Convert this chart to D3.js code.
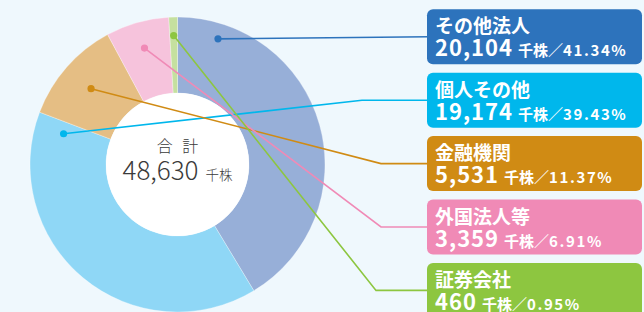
<!DOCTYPE html>
<html>
<head>
<meta charset="utf-8">
<script src="https://cdn.jsdelivr.net/npm/d3@7"></script>
<style>
  html, body { margin: 0; padding: 0; background: #eff8fd; }
  svg { display: block; font-family: "Noto Sans CJK JP", "Noto Sans", sans-serif; }
</style>
</head>
<body>
<script>
// shareholder distribution (千株)
const categories = ['その他法人', '個人その他', '金融機関', '外国法人等', '証券会社'];
const shares = [20104, 19174, 5531, 3359, 460];
const percents = ['41.34%', '39.43%', '11.37%', '6.91%', '0.95%'];
const totalShares = 48630;
const unitLabel = '千株';
const totalTitle = '合 計';

const sliceColors = ['#97afd8', '#8fd7f6', '#e5be84', '#f6c3dc', '#c5e09f'];
const boxColors = ['#2d73bc', '#00b7ec', '#d08b14', '#f08ab6', '#8dc640'];

// callout anchor: position along the slice (0..1) and radius
const anchorFrac = [0.12, 0.96, 0.5, 0.5, 0.5];
const anchorR = [132, 118, 115, 121, 129];
const bendX = [null, 362, 381, 381, 376];

const width = 644, height = 312;
const cx = 177.5, cy = 164.5, outerR = 147.5, innerR = 71.5;
const boxX = 427, boxW = 215, boxH = 55;

const svg = d3.select('body').append('svg')
  .attr('width', width)
  .attr('height', height);

svg.append('rect').attr('width', width).attr('height', height).attr('fill', '#eff8fd');

const pie = d3.pie().sort(null).value(d => d);
const arcs = pie(shares);
const arc = d3.arc().innerRadius(innerR).outerRadius(outerR);

const g = svg.append('g').attr('transform', `translate(${cx},${cy})`);
g.selectAll('path.slice')
  .data(arcs)
  .join('path')
  .attr('class', 'slice')
  .attr('d', arc)
  .attr('fill', (d, i) => sliceColors[i])
  .attr('stroke', '#ffffff')
  .attr('stroke-opacity', 0.5)
  .attr('stroke-width', 0.6);

g.append('circle').attr('r', innerR).attr('fill', '#ffffff');

// center label
const light = '"Noto Sans CJK JP Light", "Noto Sans CJK JP DemiLight", "Noto Sans CJK JP", sans-serif';
g.append('text')
  .attr('text-anchor', 'middle')
  .attr('x', 1.5)
  .attr('y', -13)
  .attr('fill', '#3a3a3a')
  .attr('font-family', light)
  .attr('font-size', 16)
  .attr('font-weight', 300)
  .attr('letter-spacing', 3)
  .text(totalTitle);

const tt = g.append('text')
  .attr('text-anchor', 'middle')
  .attr('y', 15)
  .attr('fill', '#3a3a3a')
  .attr('font-family', light)
  .attr('font-weight', 300);
tt.append('tspan').attr('font-size', 26).text(d3.format(',')(totalShares));
tt.append('tspan').attr('font-size', 13.5).attr('dx', 7).text(unitLabel);

// boxes
const yBox = d3.scalePoint().domain(categories).range([9.3, 9.3 + 4 * 63.4]);

const anchors = arcs.map((d, i) => {
  const a = d.startAngle + anchorFrac[i] * (d.endAngle - d.startAngle);
  return [cx + anchorR[i] * Math.sin(a), cy - anchorR[i] * Math.cos(a)];
});

// leader lines
const line = d3.line();
categories.forEach((c, i) => {
  const yc = yBox(c) + boxH / 2;
  const pts = [anchors[i]];
  if (bendX[i] !== null) pts.push([bendX[i], yc]);
  pts.push([boxX + 2, yc]);
  svg.append('path')
    .attr('d', line(pts))
    .attr('fill', 'none')
    .attr('stroke', boxColors[i])
    .attr('stroke-width', 1.6);
});

svg.selectAll('circle.dot')
  .data(anchors)
  .join('circle')
  .attr('class', 'dot')
  .attr('cx', d => d[0])
  .attr('cy', d => d[1])
  .attr('r', 3.6)
  .attr('fill', (d, i) => boxColors[i]);

const box = svg.selectAll('g.box')
  .data(categories)
  .join('g')
  .attr('class', 'box')
  .attr('transform', d => `translate(${boxX},${yBox(d)})`);

box.append('rect')
  .attr('width', boxW)
  .attr('height', boxH)
  .attr('rx', 6)
  .attr('fill', (d, i) => boxColors[i]);

box.append('text')
  .attr('x', 8)
  .attr('y', 24)
  .attr('fill', '#ffffff')
  .attr('font-size', 19)
  .attr('font-weight', 700)
  .text(d => d);

const val = box.append('text')
  .attr('x', 8)
  .attr('y', 47)
  .attr('fill', '#ffffff')
  .attr('font-weight', 700);
val.append('tspan')
  .attr('font-size', 22)
  .attr('letter-spacing', 1)
  .text((d, i) => d3.format(',')(shares[i]));
val.append('tspan')
  .attr('font-size', 15)
  .attr('dx', 5)
  .text(unitLabel + '／');
val.append('tspan')
  .attr('font-size', 15)
  .attr('letter-spacing', 1.6)
  .text((d, i) => percents[i]);
</script>
</body>
</html>
